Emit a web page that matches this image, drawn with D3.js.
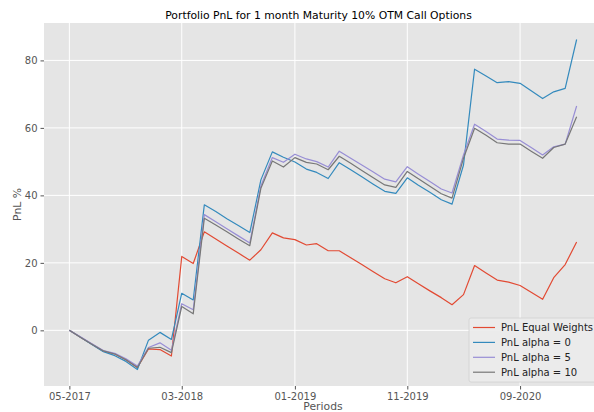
<!DOCTYPE html>
<html>
<head>
<meta charset="utf-8">
<script src="https://cdn.jsdelivr.net/npm/d3@7"></script>
<style>
    body { margin: 0; background: #ffffff; }
    svg { display: block; font-family: "DejaVu Sans", sans-serif; }
</style>
</head>
<body>
<div id="chart"></div>
<script>
var periods = [
    "2017-05", "2017-06", "2017-07", "2017-08", "2017-09", "2017-10", "2017-11", "2017-12",
    "2018-01", "2018-02", "2018-03", "2018-04", "2018-05", "2018-06", "2018-07", "2018-08",
    "2018-09", "2018-10", "2018-11", "2018-12", "2019-01", "2019-02", "2019-03", "2019-04",
    "2019-05", "2019-06", "2019-07", "2019-08", "2019-09", "2019-10", "2019-11", "2019-12",
    "2020-01", "2020-02", "2020-03", "2020-04", "2020-05", "2020-06", "2020-07", "2020-08",
    "2020-09", "2020-10", "2020-11", "2020-12", "2021-01", "2021-02"
];

var pnlEqual = [0, -2.1, -4.1, -6.2, -7.0, -8.7, -11.0, -5.5, -5.7, -7.6, 21.9, 19.8, 29.2, 27.1, 25.0, 22.9,
    20.8, 23.9, 28.9, 27.4, 26.9, 25.3, 25.7, 23.6, 23.6, 21.5, 19.5, 17.4, 15.3, 14.1, 15.9, 13.8,
    11.7, 9.7, 7.6, 10.6, 19.2, 17.0, 14.9, 14.3, 13.3, 11.3, 9.2, 15.6, 19.5, 26.2];

var pnlAlpha0 = [0, -2.1, -4.2, -6.3, -7.5, -9.2, -11.6, -2.9, -0.6, -2.7, 11.0, 9.0, 37.2, 35.2, 33.1, 31.1,
    29.0, 44.6, 52.9, 51.3, 49.9, 47.8, 46.8, 45.0, 49.7, 47.6, 45.5, 43.3, 41.2, 40.6, 45.2, 43.0,
    40.9, 38.7, 37.4, 49.0, 77.4, 75.4, 73.4, 73.7, 73.2, 71.0, 68.7, 70.7, 71.7, 86.2];

var pnlAlpha5 = [0, -2.0, -4.0, -6.0, -6.8, -8.4, -10.6, -5.1, -3.7, -5.9, 7.9, 6.1, 34.3, 32.2, 30.1, 28.0,
    25.9, 42.8, 51.2, 49.8, 52.2, 50.8, 50.0, 48.4, 53.1, 51.0, 49.0, 46.9, 44.8, 44.0, 48.5, 46.3,
    44.1, 41.9, 40.7, 52.0, 61.1, 58.9, 56.7, 56.4, 56.3, 54.2, 52.0, 54.4, 55.2, 66.5];

var pnlAlpha10 = [0, -2.1, -4.1, -6.1, -7.0, -8.7, -11.0, -5.3, -5.0, -6.6, 7.1, 4.9, 33.2, 31.2, 29.2, 27.1,
    25.1, 42.1, 50.2, 48.4, 51.2, 49.8, 49.3, 47.6, 51.6, 49.5, 47.4, 45.2, 43.1, 42.4, 47.1, 44.9,
    42.7, 40.5, 39.2, 51.0, 59.9, 57.8, 55.6, 55.2, 55.2, 53.1, 51.0, 54.2, 55.2, 63.3];

var seriesNames = ["PnL Equal Weights", "PnL alpha = 0", "PnL alpha = 5", "PnL alpha = 10"];
var seriesColors = ["#E24A33", "#348ABD", "#988ED5", "#777777"];
var xTickLabels = ["2017-05", "2018-03", "2019-01", "2019-11", "2020-09"];
var yTickValues = [0, 20, 40, 60, 80];

var width = 594,
    height = 412;

var margin = {
    top: 23,
    right: -8,
    bottom: 26,
    left: 44
};

var plotWidth = width - margin.left - margin.right,
    plotHeight = height - margin.top - margin.bottom;

var parseMonth = d3.timeParse("%Y-%m");
var dates = periods.map(parseMonth);
var allSeries = [pnlEqual, pnlAlpha0, pnlAlpha5, pnlAlpha10];

// matplotlib style 5% padding on both axes
var xExtent = d3.extent(dates);
var xPad = (xExtent[1] - xExtent[0]) * 0.05;
var x = d3.scaleTime()
    .domain([new Date(+xExtent[0] - xPad), new Date(+xExtent[1] + xPad)])
    .range([0, plotWidth]);

var yMin = d3.min(allSeries, function (s) { return d3.min(s); }),
    yMax = d3.max(allSeries, function (s) { return d3.max(s); });
var yPad = (yMax - yMin) * 0.05;
var y = d3.scaleLinear()
    .domain([yMin - yPad, yMax + yPad])
    .range([plotHeight, 0]);

var svg = d3.select("#chart").append("svg")
    .attr("width", width)
    .attr("height", height);

var g = svg.append("g")
    .attr("transform", "translate(" + margin.left + "," + margin.top + ")");

g.append("rect")
    .attr("width", plotWidth)
    .attr("height", plotHeight)
    .attr("fill", "#E5E5E5");

var xAxis = d3.axisBottom(x)
    .tickValues(xTickLabels.map(parseMonth))
    .tickFormat(d3.timeFormat("%m-%Y"))
    .tickSize(3.5)
    .tickPadding(3);

var yAxis = d3.axisLeft(y)
    .tickValues(yTickValues)
    .tickSize(3.5)
    .tickPadding(3);

// grid
g.append("g")
    .selectAll("line")
    .data(yTickValues)
    .enter().append("line")
    .attr("x1", 0)
    .attr("x2", plotWidth)
    .attr("y1", function (d) { return y(d); })
    .attr("y2", function (d) { return y(d); })
    .attr("stroke", "#ffffff")
    .attr("stroke-width", 1);

g.append("g")
    .selectAll("line")
    .data(xTickLabels.map(parseMonth))
    .enter().append("line")
    .attr("x1", function (d) { return x(d); })
    .attr("x2", function (d) { return x(d); })
    .attr("y1", 0)
    .attr("y2", plotHeight)
    .attr("stroke", "#ffffff")
    .attr("stroke-width", 1);

var gx = g.append("g")
    .attr("transform", "translate(0," + plotHeight + ")")
    .call(xAxis);

var gy = g.append("g")
    .call(yAxis);

[gx, gy].forEach(function (ax) {
    ax.select(".domain").remove();
    ax.selectAll(".tick line").attr("stroke", "#555555");
    ax.selectAll(".tick text")
        .attr("fill", "#555555")
        .style("font-family", "DejaVu Sans")
        .style("font-size", "10px");
});

var line = d3.line()
    .x(function (d, i) { return x(dates[i]); })
    .y(function (d) { return y(d); });

g.selectAll(".series")
    .data(allSeries)
    .enter().append("path")
    .attr("class", "series")
    .attr("d", line)
    .attr("fill", "none")
    .attr("stroke", function (d, i) { return seriesColors[i]; })
    .attr("stroke-width", 1.2)
    .attr("stroke-linejoin", "round");

// title and axis labels
svg.append("text")
    .attr("x", margin.left + (594 - margin.left) / 2 - 0.5)
    .attr("y", 19)
    .attr("text-anchor", "middle")
    .attr("fill", "#000000")
    .style("font-size", "10.8px")
    .text("Portfolio PnL for 1 month Maturity 10% OTM Call Options");

svg.append("text")
    .attr("x", margin.left + plotWidth / 2)
    .attr("y", 410)
    .attr("text-anchor", "middle")
    .attr("fill", "#555555")
    .style("font-size", "10.8px")
    .text("Periods");

svg.append("text")
    .attr("transform", "translate(21," + (margin.top + plotHeight / 2) + ") rotate(-90)")
    .attr("text-anchor", "middle")
    .attr("fill", "#555555")
    .style("font-size", "10.8px")
    .text("PnL %");

// legend
var legend = svg.append("g")
    .attr("transform", "translate(469,318)");

legend.append("rect")
    .attr("width", 140)
    .attr("height", 64)
    .attr("rx", 2)
    .attr("fill", "#ebebeb")
    .attr("fill-opacity", 0.9)
    .attr("stroke", "#d0d0d0")
    .attr("stroke-width", 0.8);

var items = legend.selectAll(".item")
    .data(seriesNames)
    .enter().append("g")
    .attr("class", "item")
    .attr("transform", function (d, i) { return "translate(0," + (9.5 + i * 14.9) + ")"; });

items.append("line")
    .attr("x1", 4)
    .attr("x2", 26)
    .attr("stroke", function (d, i) { return seriesColors[i]; })
    .attr("stroke-width", 1.2);

items.append("text")
    .attr("x", 32)
    .attr("dy", "0.35em")
    .attr("fill", "#222222")
    .style("font-size", "10px")
    .text(function (d) { return d; });
</script>
</body>
</html>
